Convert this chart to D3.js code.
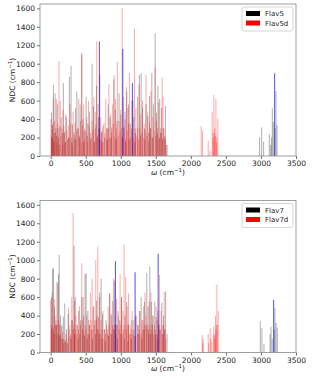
<!DOCTYPE html>
<meta charset="utf-8">
<style>
body { margin: 0; background: #fff; }
text { font-family: "DejaVu Sans", sans-serif; fill: #222; }
</style>
<svg width="318" height="379"></svg>
<script src="https://d3js.org/d3.v7.min.js"></script>
<script>

// frequencies (cm^-1) and NDC values
var flav5 = [[10,470],[25,330],[38,770],[50,250],[62,680],[75,300],[95,560],[110,200],[130,320],[150,420],[180,790],[195,260],[215,450],[240,180],[266,860],[290,975],[310,340],[335,230],[355,520],[373,700],[395,300],[420,560],[443,1100],[460,400],[480,280],[505,640],[530,350],[555,480],[590,1000],[610,540],[635,300],[655,760],[680,420],[700,880],[720,250],[745,330],[770,200],[795,300],[820,560],[845,420],[870,310],[900,830],[920,500],[945,380],[975,680],[1000,450],[1040,300],[1060,480],[1085,700],[1110,560],[1135,350],[1160,600],[1185,420],[1210,250],[1240,640],[1265,880],[1290,900],[1310,520],[1335,300],[1360,560],[1385,430],[1410,650],[1443,900],[1465,560],[1490,1330],[1510,470],[1530,760],[1555,620],[1580,520],[1605,300],[1637,540],[1660,120],
  [2981,203],[3010,310],[3038,155],[3119,238],[3138,120],[3162,516],[3176,368],[3214,704],[3229,336]];
var flav5Weak = [[18,200],[45,150],[85,220],[120,120],[170,250],[205,150],[255,200],[300,150],[345,180],[410,200],[470,150],[520,220],[570,180],[620,150],[665,200],[690,300],[730,150],[810,180],[860,200],[935,180],[1020,200],[1070,150],[1120,180],[1200,150],[1280,220],[1345,180],[1400,250],[1425,300],[1455,200],[1520,250],[1545,200],[1570,250],[1595,180],[1625,200],[3150,200],[3200,300]];

var flav5d = [[5,400],[20,280],[35,620],[55,380],[80,620],[100,350],[118,1030],[135,600],[160,300],[175,500],[200,250],[225,420],[250,330],[275,560],[300,200],[320,480],[345,360],[370,280],[400,620],[425,380],[443,1120],[470,560],[490,300],[515,420],[540,600],[565,250],[590,380],[615,640],[635,480],[657,1240],[675,560],[690,300],[715,420],[735,280],[760,360],[785,620],[810,300],[830,780],[855,450],[880,560],[905,880],[925,620],[950,1020],[975,380],[1000,500],[1019,1600],[1040,640],[1060,400],[1080,750],[1100,520],[1125,900],[1150,300],[1175,600],[1195,1380],[1215,520],[1240,300],[1260,780],[1285,450],[1310,600],[1335,350],[1360,880],[1385,480],[1410,360],[1430,700],[1460,420],[1490,960],[1510,380],[1540,580],[1565,300],[1590,850],[1604,640],[1625,220],[1650,120],
  [2147,325],[2166,274],[2247,166],[2270,60],[2304,480],[2315,250],[2328,661],[2340,300],[2357,617],[2372,200],[2385,405]];
var flav5dWeak = [[12,200],[28,350],[45,180],[68,260],[88,150],[108,300],[145,220],[168,120],[188,330],[210,150],[232,280],[262,200],[285,350],[310,120],[330,260],[358,180],[382,300],[410,220],[432,150],[455,330],[480,180],[502,260],[528,150],[552,320],[578,200],[600,280],[625,160],[645,340],[665,220],[705,180],[725,260],[748,150],[772,240],[798,180],[820,300],[842,200],[868,260],[892,350],[915,200],[938,300],[962,220],[988,260],[1008,300],[1030,200],[1050,320],[1070,180],[1090,280],[1112,350],[1138,200],[1162,260],[1185,200],[1205,300],[1228,220],[1250,180],[1272,300],[1298,250],[1322,200],[1348,280],[1372,220],[1398,160],[1420,300],[1445,200],[1475,280],[1500,220],[1525,300],[1552,180],[1578,250],[1615,300],[1638,180],[2320,200],[2335,250],[2350,220],[2365,150]];

var flav5Marked = [[694,1240],[1028,1160],[1165,790],[3195,896]];

var flav7 = [[10,600],[25,910],[40,910],[55,500],[70,300],[90,760],[113,850],[120,1060],[140,400],[160,300],[180,390],[200,530],[225,250],[250,420],[275,180],[300,350],[333,1160],[350,600],[375,300],[400,450],[425,350],[445,600],[470,400],[490,850],[505,860],[530,450],[555,300],[580,250],[605,500],[630,350],[655,560],[680,380],[700,650],[719,800],[740,420],[765,250],[790,350],[815,200],[838,640],[860,420],[885,560],[910,780],[935,300],[960,450],[985,350],[1010,600],[1035,250],[1060,400],[1085,550],[1110,300],[1135,200],[1160,350],[1185,250],[1210,400],[1240,300],[1265,450],[1290,600],[1315,350],[1340,550],[1371,860],[1390,500],[1414,930],[1435,550],[1460,400],[1485,550],[1505,380],[1530,450],[1560,250],[1585,540],[1610,400],[1640,660],[1660,200],
  [2990,343],[3014,264],[3043,90],[3130,200],[3143,280],[3200,480],[3215,320],[3233,270]];
var flav7Weak = [[15,250],[48,200],[80,300],[105,200],[130,180],[170,150],[210,120],[240,100],[290,150],[320,250],[340,200],[390,150],[415,200],[455,250],[480,180],[520,150],[545,200],[595,150],[640,200],[665,250],[690,200],[730,150],[780,120],[825,180],[870,200],[895,250],[920,300],[950,150],[1000,200],[1050,150],[1100,120],[1150,150],[1200,180],[1255,200],[1300,150],[1330,250],[1360,300],[1400,250],[1425,200],[1450,300],[1495,200],[1520,150],[1545,300],[1600,200],[1625,250],[3160,150],[3190,250]];

var flav7d = [[0,570],[20,650],[30,280],[50,580],[75,350],[100,760],[125,300],[150,280],[170,220],[190,150],[215,200],[252,480],[275,300],[300,600],[319,1510],[340,560],[360,400],[385,300],[410,500],[443,970],[465,600],[490,300],[515,400],[540,350],[565,650],[590,800],[615,500],[643,1000],[660,400],[672,1150],[695,600],[720,350],[745,450],[770,250],[795,300],[820,500],[845,640],[870,400],[895,800],[915,300],[940,580],[965,400],[990,850],[1010,600],[1030,450],[1047,1170],[1070,820],[1090,500],[1110,640],[1135,300],[1160,450],[1185,350],[1225,400],[1250,300],[1275,450],[1300,350],[1325,500],[1345,650],[1360,400],[1385,300],[1405,550],[1430,650],[1455,400],[1480,300],[1505,500],[1530,350],[1552,840],[1575,450],[1600,300],[1619,660],[1640,150],
  [2161,192],[2176,150],[2247,200],[2276,264],[2300,120],[2324,280],[2340,200],[2352,400],[2362,300],[2371,733],[2390,450]];
var flav7dWeak = [[8,300],[40,250],[62,400],[88,300],[112,350],[138,200],[160,150],[180,100],[200,120],[230,150],[262,250],[288,200],[310,350],[330,300],[350,250],[372,200],[398,250],[425,300],[455,350],[478,200],[502,250],[528,200],[552,300],[578,350],[603,250],[628,300],[652,350],[685,250],[708,200],[732,250],[758,150],[782,200],[808,250],[832,300],[858,200],[882,300],[905,250],[928,200],[952,300],[978,250],[1000,300],[1020,200],[1058,300],[1080,250],[1100,300],[1122,200],[1148,250],[1172,200],[1212,180],[1238,200],[1262,250],[1288,200],[1312,250],[1335,300],[1372,250],[1395,200],[1418,300],[1442,250],[1468,200],[1492,250],[1518,200],[1540,300],[1562,250],[1588,200],[1610,300],[1630,250],[2168,100],[2255,100],[2285,150],[2330,180],[2345,150],[2358,250],[2380,300]];

var flav7Marked = [[923,990],[1204,870],[1533,1070],[3181,571]];

var xTicks = [0, 500, 1000, 1500, 2000, 2500, 3000, 3500];
var yTicks = [0, 200, 400, 600, 800, 1000, 1200, 1400, 1600];

var panels = [
  {top: 4, names: ["Flav5", "Flav5d"], black: flav5.concat(flav5Weak), red: flav5d.concat(flav5dWeak), blue: flav5Marked},
  {top: 200.5, names: ["Flav7", "Flav7d"], black: flav7.concat(flav7Weak), red: flav7d.concat(flav7dWeak), blue: flav7Marked}
];

var svg = d3.select("svg");
var left = 40, right = 296, h = 152;

var x = d3.scaleLinear().domain([-153, 3500]).range([left, right]);

panels.forEach(function(p, i) {
  var y = d3.scaleLinear().domain([0, 1647]).range([p.top + h, p.top]);
  var g = svg.append("g");

  g.append("clipPath").attr("id", "clip" + i)
    .append("rect").attr("x", left).attr("y", p.top).attr("width", right - left).attr("height", h);

  var bars = g.append("g").attr("clip-path", "url(#clip" + i + ")");
  function drawBars(data, color, op) {
    bars.append("g").selectAll("rect").data(data).enter().append("rect")
      .attr("x", function(d) { return x(d[0] - 7); })
      .attr("width", function(d) { return x(d[0] + 7) - x(d[0] - 7); })
      .attr("y", function(d) { return y(d[1]); })
      .attr("height", function(d) { return y(0) - y(d[1]); })
      .attr("fill", color)
      .attr("fill-opacity", op);
  }
  drawBars(p.black, "#000", 0.32);
  drawBars(p.red, "#f00", 0.35);
  drawBars(p.blue, "#00f", 0.7);

  var xa = g.append("g").attr("transform", "translate(0," + (p.top + h) + ")")
    .call(d3.axisBottom(x).tickValues(xTicks).tickSize(3).tickPadding(2).tickFormat(d3.format("d")));
  var ya = g.append("g").attr("transform", "translate(" + left + ",0)")
    .call(d3.axisLeft(y).tickValues(yTicks).tickSize(3).tickPadding(2).tickFormat(d3.format("d")));
  [xa, ya].forEach(function(a) {
    a.select(".domain").remove();
    a.selectAll("line").attr("stroke", "#333").attr("stroke-width", 0.7);
    a.selectAll("text").attr("font-size", 7.5).attr("fill", "#222").style("font-family", "DejaVu Sans");
  });

  g.append("rect").attr("x", left).attr("y", p.top).attr("width", right - left).attr("height", h)
    .attr("fill", "none").attr("stroke", "#888").attr("stroke-width", 0.8);

  // axis labels
  var xl = g.append("text").attr("x", (left + right) / 2).attr("y", p.top + h + 18.5)
    .attr("text-anchor", "middle").attr("font-size", 7.5);
  xl.append("tspan").attr("font-style", "italic").text("ω");
  xl.append("tspan").text(" (cm");
  xl.append("tspan").attr("dy", -3).attr("font-size", 5.5).text("−1");
  xl.append("tspan").attr("dy", 3).text(")");

  var yl = g.append("text").attr("transform", "translate(15," + (p.top + h / 2) + ") rotate(-90)")
    .attr("text-anchor", "middle").attr("font-size", 7.5);
  yl.append("tspan").text("NDC (cm");
  yl.append("tspan").attr("dy", -3).attr("font-size", 5.5).text("−1");
  yl.append("tspan").attr("dy", 3).text(")");

  // legend
  var lg = g.append("g").attr("transform", "translate(242," + (p.top + 3) + ")");
  lg.append("rect").attr("width", 51).attr("height", 24).attr("rx", 2)
    .attr("fill", "#fff").attr("fill-opacity", 0.8).attr("stroke", "#ccc").attr("stroke-width", 0.8);
  ["#000", "#f00"].forEach(function(c, k) {
    lg.append("rect").attr("x", 4).attr("y", 4 + k * 9.5).attr("width", 14).attr("height", 5).attr("fill", c);
    lg.append("text").attr("x", 23).attr("y", 9 + k * 9.5).attr("font-size", 7).text(p.names[k]);
  });
});

</script>
